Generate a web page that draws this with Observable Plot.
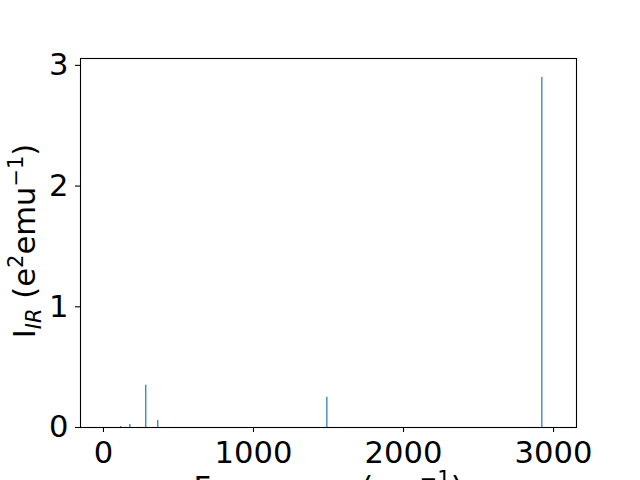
<!DOCTYPE html>
<html>
<head>
<meta charset="utf-8">
<script src="https://cdn.jsdelivr.net/npm/d3@7"></script>
<script src="https://cdn.jsdelivr.net/npm/@observablehq/plot@0.6"></script>
<style>
html, body { margin: 0; padding: 0; background: white; }
svg { display: block; }
</style>
</head>
<body>
<div id="chart"></div>
<script>
const frequencies = [115, 176, 282, 362, 1489, 2922];
const intensities = [0.008, 0.025, 0.35, 0.058, 0.25, 2.90];
const xTicks = [0, 1000, 2000, 3000];
const yTicks = [0, 1, 2, 3];

const data = frequencies.map((f, i) => ({f, v: intensities[i]}));

const FS = 30.6;

const svg = Plot.plot({
  width: 640,
  height: 480,
  marginLeft: 80,
  marginRight: 64,
  marginTop: 58,
  marginBottom: 53,
  style: {fontFamily: "DejaVu Sans", fontSize: FS + "px", background: "white", color: "black"},
  x: {domain: [-153, 3153], label: null},
  y: {domain: [0, 3.057], label: null},
  marks: [
    Plot.ruleX(data, {x: "f", y1: 0, y2: "v", stroke: "#1f77b4", strokeWidth: 1.2}),
    Plot.frame({stroke: "black", strokeWidth: 1.1}),
    Plot.axisX({ticks: xTicks, tickFormat: d3.format("d"), tickSize: 5, tickPadding: 9, fontSize: FS, label: null, stroke: "black", strokeWidth: 1.1}),
    Plot.axisY({ticks: yTicks, tickFormat: d3.format("d"), tickSize: 5, tickPadding: 7, fontSize: FS, label: null, stroke: "black", strokeWidth: 1.1})
  ]
});

const s = d3.select(svg);
// x label (mostly clipped at bottom, as in reference)
const xl = s.append("text")
  .attr("x", 328).attr("y", 498)
  .attr("text-anchor", "middle")
  .attr("font-family", "DejaVu Sans").attr("font-size", FS).attr("fill", "black");
xl.append("tspan").text("Frequency (cm");
xl.append("tspan").attr("baseline-shift", "super").attr("font-size", 21).text("−1");
xl.append("tspan").text(")");

// y label
const yl = s.append("text")
  .attr("transform", "translate(35,241) rotate(-90)")
  .attr("text-anchor", "middle")
  .attr("font-family", "DejaVu Sans").attr("font-size", FS).attr("fill", "black");
yl.append("tspan").text("I");
yl.append("tspan").attr("baseline-shift", "-6").attr("font-size", 21).attr("font-style", "italic").text("IR");
yl.append("tspan").text(" (e");
yl.append("tspan").attr("baseline-shift", "12").attr("font-size", 21).text("2");
yl.append("tspan").text("emu");
yl.append("tspan").attr("baseline-shift", "12").attr("font-size", 21).text("−1");
yl.append("tspan").text(")");

document.getElementById("chart").appendChild(svg);
</script>
</body>
</html>
